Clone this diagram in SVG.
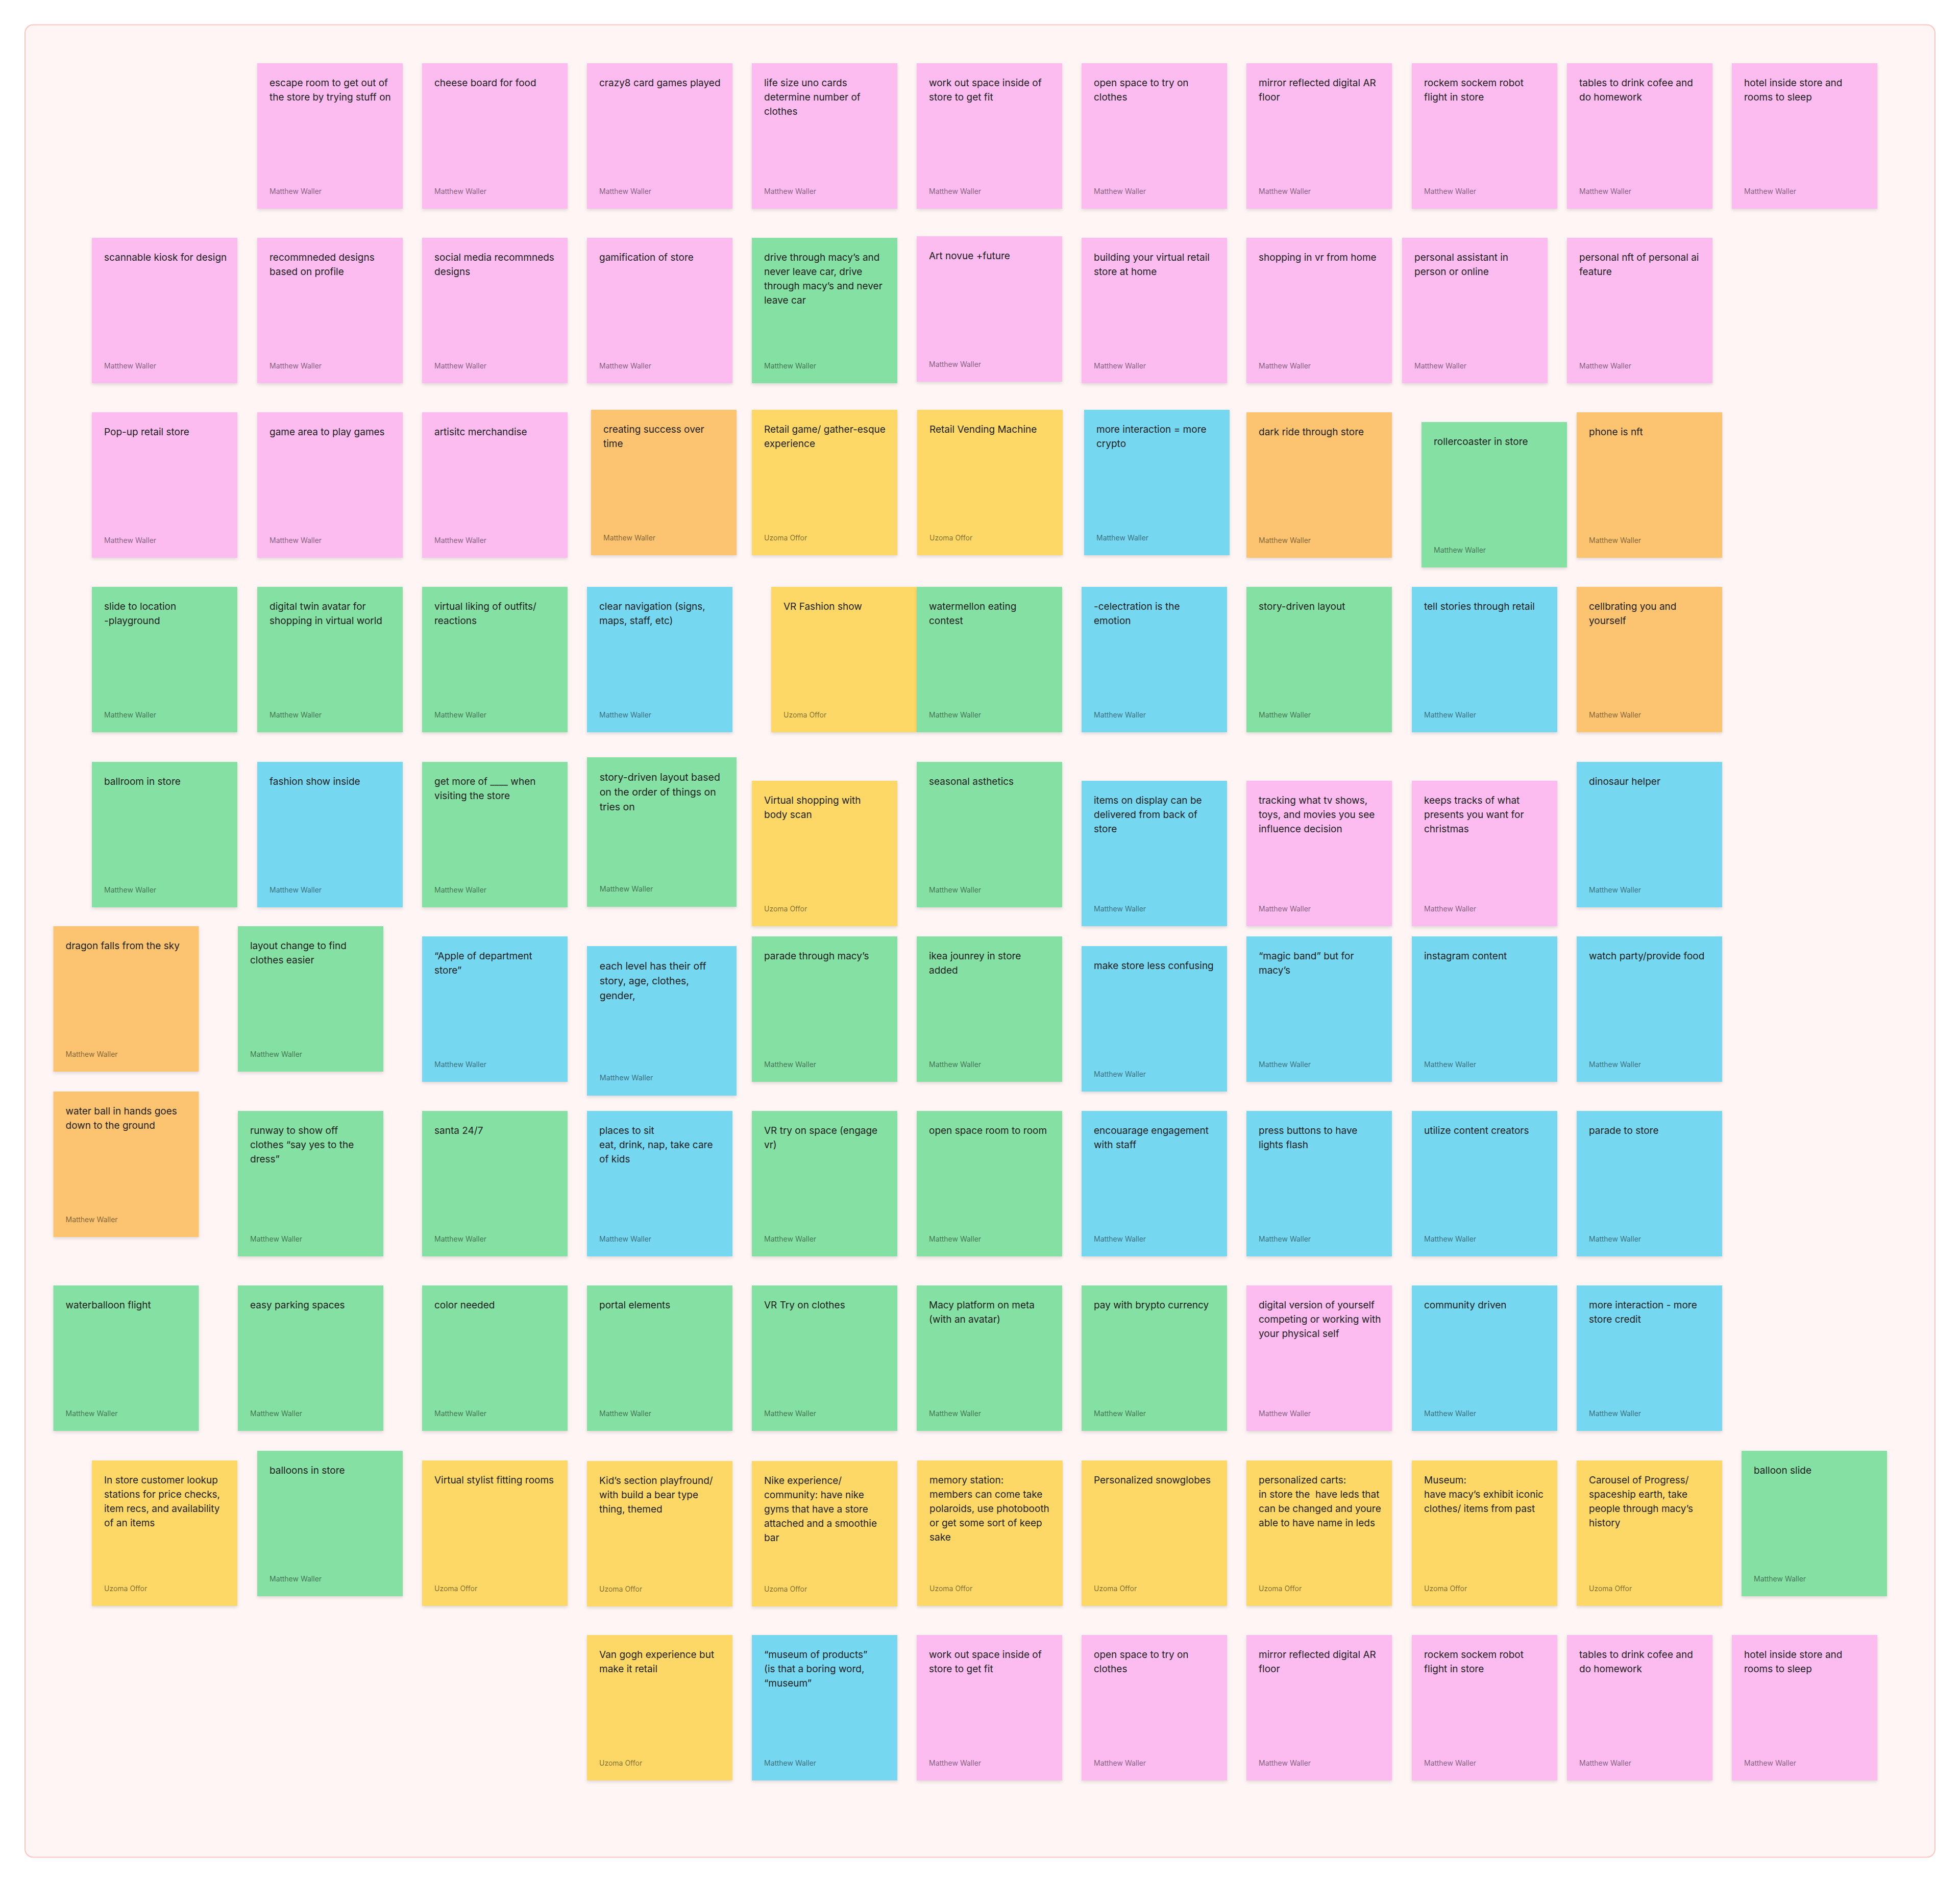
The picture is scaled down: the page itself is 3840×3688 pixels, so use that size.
<svg xmlns="http://www.w3.org/2000/svg" width="3840" height="3688" viewBox="0 0 3840 3688">
<style>
.s{filter:url(#sh)}
.pk{fill:#FCBCF0}.gr{fill:#85E0A3}.bl{fill:#75D7F0}.ye{fill:#FDD866}.or{fill:#FCC470}
.t{font-family:Inter,"Noto Sans","Liberation Sans",sans-serif;font-size:19px;fill:#1E1E1E}
.a{font-family:Inter,"Noto Sans","Liberation Sans",sans-serif;font-size:14px;fill:#000;fill-opacity:0.5}
</style>
<defs>
<filter id="sh" x="-10%" y="-10%" width="120%" height="125%">
<feDropShadow dx="0" dy="3" stdDeviation="3" flood-color="#000" flood-opacity="0.12"/>
</filter>
</defs>
<rect width="3840" height="3688" fill="#FFFFFF"/>
<rect id="frame" x="49" y="48.5" width="3742" height="3591" rx="16" fill="#FEF5F4" stroke="#FCC4C0" stroke-width="2"/>

<!-- Row 0 -->
<g id="n-escape" transform="translate(504,124)"><rect class="s pk" width="285" height="285"/><text class="t"><tspan x="24" y="45">escape room to get out of</tspan><tspan x="24" dy="28">the store by trying stuff on</tspan></text><text class="a" x="24" y="256">Matthew Waller</text></g>
<g id="n-cheese" transform="translate(827,124)"><rect class="s pk" width="285" height="285"/><text class="t"><tspan x="24" y="45">cheese board for food</tspan></text><text class="a" x="24" y="256">Matthew Waller</text></g>
<g id="n-crazy8" transform="translate(1150,124)"><rect class="s pk" width="285" height="285"/><text class="t"><tspan x="24" y="45">crazy8 card games played</tspan></text><text class="a" x="24" y="256">Matthew Waller</text></g>
<g id="n-uno" transform="translate(1473,124)"><rect class="s pk" width="285" height="285"/><text class="t"><tspan x="24" y="45">life size uno cards</tspan><tspan x="24" dy="28">determine number of</tspan><tspan x="24" dy="28">clothes</tspan></text><text class="a" x="24" y="256">Matthew Waller</text></g>
<g id="n-workout1" transform="translate(1796,124)"><rect class="s pk" width="285" height="285"/><text class="t"><tspan x="24" y="45">work out space inside of</tspan><tspan x="24" dy="28">store to get fit</tspan></text><text class="a" x="24" y="256">Matthew Waller</text></g>
<g id="n-openspace1" transform="translate(2119,124)"><rect class="s pk" width="285" height="285"/><text class="t"><tspan x="24" y="45">open space to try on</tspan><tspan x="24" dy="28">clothes</tspan></text><text class="a" x="24" y="256">Matthew Waller</text></g>
<g id="n-mirror1" transform="translate(2442,124)"><rect class="s pk" width="285" height="285"/><text class="t"><tspan x="24" y="45">mirror reflected digital AR</tspan><tspan x="24" dy="28">floor</tspan></text><text class="a" x="24" y="256">Matthew Waller</text></g>
<g id="n-rockem1" transform="translate(2766,124)"><rect class="s pk" width="285" height="285"/><text class="t"><tspan x="24" y="45">rockem sockem robot</tspan><tspan x="24" dy="28">flight in store</tspan></text><text class="a" x="24" y="256">Matthew Waller</text></g>
<g id="n-tables1" transform="translate(3070,124)"><rect class="s pk" width="285" height="285"/><text class="t"><tspan x="24" y="45">tables to drink cofee and</tspan><tspan x="24" dy="28">do homework</tspan></text><text class="a" x="24" y="256">Matthew Waller</text></g>
<g id="n-hotel1" transform="translate(3393,124)"><rect class="s pk" width="285" height="285"/><text class="t"><tspan x="24" y="45">hotel inside store and</tspan><tspan x="24" dy="28">rooms to sleep</tspan></text><text class="a" x="24" y="256">Matthew Waller</text></g>

<!-- Row 1 -->
<g id="n-kiosk" transform="translate(180,466)"><rect class="s pk" width="285" height="285"/><text class="t"><tspan x="24" y="45">scannable kiosk for design</tspan></text><text class="a" x="24" y="256">Matthew Waller</text></g>
<g id="n-recomm" transform="translate(504,466)"><rect class="s pk" width="285" height="285"/><text class="t"><tspan x="24" y="45">recommneded designs</tspan><tspan x="24" dy="28">based on profile</tspan></text><text class="a" x="24" y="256">Matthew Waller</text></g>
<g id="n-social" transform="translate(827,466)"><rect class="s pk" width="285" height="285"/><text class="t"><tspan x="24" y="45">social media recommneds</tspan><tspan x="24" dy="28">designs</tspan></text><text class="a" x="24" y="256">Matthew Waller</text></g>
<g id="n-gamif" transform="translate(1150,466)"><rect class="s pk" width="285" height="285"/><text class="t"><tspan x="24" y="45">gamification of store</tspan></text><text class="a" x="24" y="256">Matthew Waller</text></g>
<g id="n-drive" transform="translate(1473,466)"><rect class="s gr" width="285" height="285"/><text class="t"><tspan x="24" y="45">drive through macy’s and</tspan><tspan x="24" dy="28">never leave car, drive</tspan><tspan x="24" dy="28">through macy’s and never</tspan><tspan x="24" dy="28">leave car</tspan></text><text class="a" x="24" y="256">Matthew Waller</text></g>
<g id="n-artnovue" transform="translate(1796,463)"><rect class="s pk" width="285" height="285"/><text class="t"><tspan x="24" y="45">Art novue +future</tspan></text><text class="a" x="24" y="256">Matthew Waller</text></g>
<g id="n-building" transform="translate(2119,466)"><rect class="s pk" width="285" height="285"/><text class="t"><tspan x="24" y="45">building your virtual retail</tspan><tspan x="24" dy="28">store at home</tspan></text><text class="a" x="24" y="256">Matthew Waller</text></g>
<g id="n-shopvr" transform="translate(2442,466)"><rect class="s pk" width="285" height="285"/><text class="t"><tspan x="24" y="45">shopping in vr from home</tspan></text><text class="a" x="24" y="256">Matthew Waller</text></g>
<g id="n-assistant" transform="translate(2747,466)"><rect class="s pk" width="285" height="285"/><text class="t"><tspan x="24" y="45">personal assistant in</tspan><tspan x="24" dy="28">person or online</tspan></text><text class="a" x="24" y="256">Matthew Waller</text></g>
<g id="n-nft" transform="translate(3070,466)"><rect class="s pk" width="285" height="285"/><text class="t"><tspan x="24" y="45">personal nft of personal ai</tspan><tspan x="24" dy="28">feature</tspan></text><text class="a" x="24" y="256">Matthew Waller</text></g>

<!-- Row 2 -->
<g id="n-popup" transform="translate(180,808)"><rect class="s pk" width="285" height="285"/><text class="t"><tspan x="24" y="45">Pop-up retail store</tspan></text><text class="a" x="24" y="256">Matthew Waller</text></g>
<g id="n-gamearea" transform="translate(504,808)"><rect class="s pk" width="285" height="285"/><text class="t"><tspan x="24" y="45">game area to play games</tspan></text><text class="a" x="24" y="256">Matthew Waller</text></g>
<g id="n-artisitc" transform="translate(827,808)"><rect class="s pk" width="285" height="285"/><text class="t"><tspan x="24" y="45">artisitc merchandise</tspan></text><text class="a" x="24" y="256">Matthew Waller</text></g>
<g id="n-success" transform="translate(1158,803)"><rect class="s or" width="285" height="285"/><text class="t"><tspan x="24" y="45">creating success over</tspan><tspan x="24" dy="28">time</tspan></text><text class="a" x="24" y="256">Matthew Waller</text></g>
<g id="n-retailgame" transform="translate(1473,803)"><rect class="s ye" width="285" height="285"/><text class="t"><tspan x="24" y="45">Retail game/ gather-esque</tspan><tspan x="24" dy="28">experience</tspan></text><text class="a" x="24" y="256">Uzoma Offor</text></g>
<g id="n-vending" transform="translate(1797,803)"><rect class="s ye" width="285" height="285"/><text class="t"><tspan x="24" y="45">Retail Vending Machine</tspan></text><text class="a" x="24" y="256">Uzoma Offor</text></g>
<g id="n-crypto" transform="translate(2124,803)"><rect class="s bl" width="285" height="285"/><text class="t"><tspan x="24" y="45">more interaction = more</tspan><tspan x="24" dy="28">crypto</tspan></text><text class="a" x="24" y="256">Matthew Waller</text></g>
<g id="n-darkride" transform="translate(2442,808)"><rect class="s or" width="285" height="285"/><text class="t"><tspan x="24" y="45">dark ride through store</tspan></text><text class="a" x="24" y="256">Matthew Waller</text></g>
<g id="n-roller" transform="translate(2785,827)"><rect class="s gr" width="285" height="285"/><text class="t"><tspan x="24" y="45">rollercoaster in store</tspan></text><text class="a" x="24" y="256">Matthew Waller</text></g>
<g id="n-phonenft" transform="translate(3089,808)"><rect class="s or" width="285" height="285"/><text class="t"><tspan x="24" y="45">phone is nft</tspan></text><text class="a" x="24" y="256">Matthew Waller</text></g>

<!-- Row 3 -->
<g id="n-slide" transform="translate(180,1150)"><rect class="s gr" width="285" height="285"/><text class="t"><tspan x="24" y="45">slide to location</tspan><tspan x="24" dy="28">-playground</tspan></text><text class="a" x="24" y="256">Matthew Waller</text></g>
<g id="n-twin" transform="translate(504,1150)"><rect class="s gr" width="285" height="285"/><text class="t"><tspan x="24" y="45">digital twin avatar for</tspan><tspan x="24" dy="28">shopping in virtual world</tspan></text><text class="a" x="24" y="256">Matthew Waller</text></g>
<g id="n-liking" transform="translate(827,1150)"><rect class="s gr" width="285" height="285"/><text class="t"><tspan x="24" y="45">virtual liking of outfits/</tspan><tspan x="24" dy="28">reactions</tspan></text><text class="a" x="24" y="256">Matthew Waller</text></g>
<g id="n-nav" transform="translate(1150,1150)"><rect class="s bl" width="285" height="285"/><text class="t"><tspan x="24" y="45">clear navigation (signs,</tspan><tspan x="24" dy="28">maps, staff, etc)</tspan></text><text class="a" x="24" y="256">Matthew Waller</text></g>
<g id="n-vrfashion" transform="translate(1511,1150)"><rect class="s ye" width="285" height="285"/><text class="t"><tspan x="24" y="45">VR Fashion show</tspan></text><text class="a" x="24" y="256">Uzoma Offor</text></g>
<g id="n-water" transform="translate(1796,1150)"><rect class="s gr" width="285" height="285"/><text class="t"><tspan x="24" y="45">watermellon eating</tspan><tspan x="24" dy="28">contest</tspan></text><text class="a" x="24" y="256">Matthew Waller</text></g>
<g id="n-celect" transform="translate(2119,1150)"><rect class="s bl" width="285" height="285"/><text class="t"><tspan x="24" y="45">-celectration is the</tspan><tspan x="24" dy="28">emotion</tspan></text><text class="a" x="24" y="256">Matthew Waller</text></g>
<g id="n-storylayout" transform="translate(2442,1150)"><rect class="s gr" width="285" height="285"/><text class="t"><tspan x="24" y="45">story-driven layout</tspan></text><text class="a" x="24" y="256">Matthew Waller</text></g>
<g id="n-tellstories" transform="translate(2766,1150)"><rect class="s bl" width="285" height="285"/><text class="t"><tspan x="24" y="45">tell stories through retail</tspan></text><text class="a" x="24" y="256">Matthew Waller</text></g>
<g id="n-cellbrating" transform="translate(3089,1150)"><rect class="s or" width="285" height="285"/><text class="t"><tspan x="24" y="45">cellbrating you and</tspan><tspan x="24" dy="28">yourself</tspan></text><text class="a" x="24" y="256">Matthew Waller</text></g>

<!-- Row 4 -->
<g id="n-ballroom" transform="translate(180,1493)"><rect class="s gr" width="285" height="285"/><text class="t"><tspan x="24" y="45">ballroom in store</tspan></text><text class="a" x="24" y="256">Matthew Waller</text></g>
<g id="n-fashioninside" transform="translate(504,1493)"><rect class="s bl" width="285" height="285"/><text class="t"><tspan x="24" y="45">fashion show inside</tspan></text><text class="a" x="24" y="256">Matthew Waller</text></g>
<g id="n-getmore" transform="translate(827,1493)"><rect class="s gr" width="285" height="285"/><text class="t"><tspan x="24" y="45">get more of ____ when</tspan><tspan x="24" dy="28">visiting the store</tspan></text><text class="a" x="24" y="256">Matthew Waller</text></g>
<g id="n-storybased" transform="translate(1150,1484) scale(1.028)"><rect class="s gr" width="285" height="285"/><text class="t"><tspan x="24" y="45">story-driven layout based</tspan><tspan x="24" dy="28">on the order of things on</tspan><tspan x="24" dy="28">tries on</tspan></text><text class="a" x="24" y="256">Matthew Waller</text></g>
<g id="n-bodyscan" transform="translate(1473,1530)"><rect class="s ye" width="285" height="285"/><text class="t"><tspan x="24" y="45">Virtual shopping with</tspan><tspan x="24" dy="28">body scan</tspan></text><text class="a" x="24" y="256">Uzoma Offor</text></g>
<g id="n-seasonal" transform="translate(1796,1493)"><rect class="s gr" width="285" height="285"/><text class="t"><tspan x="24" y="45">seasonal asthetics</tspan></text><text class="a" x="24" y="256">Matthew Waller</text></g>
<g id="n-display" transform="translate(2119,1530)"><rect class="s bl" width="285" height="285"/><text class="t"><tspan x="24" y="45">items on display can be</tspan><tspan x="24" dy="28">delivered from back of</tspan><tspan x="24" dy="28">store</tspan></text><text class="a" x="24" y="256">Matthew Waller</text></g>
<g id="n-tracking" transform="translate(2442,1530)"><rect class="s pk" width="285" height="285"/><text class="t"><tspan x="24" y="45">tracking what tv shows,</tspan><tspan x="24" dy="28">toys, and movies you see</tspan><tspan x="24" dy="28">influence decision</tspan></text><text class="a" x="24" y="256">Matthew Waller</text></g>
<g id="n-keeps" transform="translate(2766,1530)"><rect class="s pk" width="285" height="285"/><text class="t"><tspan x="24" y="45">keeps tracks of what</tspan><tspan x="24" dy="28">presents you want for</tspan><tspan x="24" dy="28">christmas</tspan></text><text class="a" x="24" y="256">Matthew Waller</text></g>
<g id="n-dino" transform="translate(3089,1493)"><rect class="s bl" width="285" height="285"/><text class="t"><tspan x="24" y="45">dinosaur helper</tspan></text><text class="a" x="24" y="256">Matthew Waller</text></g>

<!-- Row 5 -->
<g id="n-dragon" transform="translate(104.5,1815)"><rect class="s or" width="285" height="285"/><text class="t"><tspan x="24" y="45">dragon falls from the sky</tspan></text><text class="a" x="24" y="256">Matthew Waller</text></g>
<g id="n-layoutchange" transform="translate(466,1815)"><rect class="s gr" width="285" height="285"/><text class="t"><tspan x="24" y="45">layout change to find</tspan><tspan x="24" dy="28">clothes easier</tspan></text><text class="a" x="24" y="256">Matthew Waller</text></g>
<g id="n-apple" transform="translate(827,1835)"><rect class="s bl" width="285" height="285"/><text class="t"><tspan x="24" y="45">“Apple of department</tspan><tspan x="24" dy="28">store”</tspan></text><text class="a" x="24" y="256">Matthew Waller</text></g>
<g id="n-eachlevel" transform="translate(1150,1854) scale(1.028)"><rect class="s bl" width="285" height="285"/><text class="t"><tspan x="24" y="45">each level has their off</tspan><tspan x="24" dy="28">story, age, clothes,</tspan><tspan x="24" dy="28">gender,</tspan></text><text class="a" x="24" y="256">Matthew Waller</text></g>
<g id="n-parademacys" transform="translate(1473,1835)"><rect class="s gr" width="285" height="285"/><text class="t"><tspan x="24" y="45">parade through macy’s</tspan></text><text class="a" x="24" y="256">Matthew Waller</text></g>
<g id="n-ikea" transform="translate(1796,1835)"><rect class="s gr" width="285" height="285"/><text class="t"><tspan x="24" y="45">ikea jounrey in store</tspan><tspan x="24" dy="28">added</tspan></text><text class="a" x="24" y="256">Matthew Waller</text></g>
<g id="n-confusing" transform="translate(2119,1854)"><rect class="s bl" width="285" height="285"/><text class="t"><tspan x="24" y="45">make store less confusing</tspan></text><text class="a" x="24" y="256">Matthew Waller</text></g>
<g id="n-magicband" transform="translate(2442,1835)"><rect class="s bl" width="285" height="285"/><text class="t"><tspan x="24" y="45">“magic band” but for</tspan><tspan x="24" dy="28">macy’s</tspan></text><text class="a" x="24" y="256">Matthew Waller</text></g>
<g id="n-instagram" transform="translate(2766,1835)"><rect class="s bl" width="285" height="285"/><text class="t"><tspan x="24" y="45">instagram content</tspan></text><text class="a" x="24" y="256">Matthew Waller</text></g>
<g id="n-watchparty" transform="translate(3089,1835)"><rect class="s bl" width="285" height="285"/><text class="t"><tspan x="24" y="45">watch party/provide food</tspan></text><text class="a" x="24" y="256">Matthew Waller</text></g>

<!-- Row 6 -->
<g id="n-waterball" transform="translate(104.5,2139)"><rect class="s or" width="285" height="285"/><text class="t"><tspan x="24" y="45">water ball in hands goes</tspan><tspan x="24" dy="28">down to the ground</tspan></text><text class="a" x="24" y="256">Matthew Waller</text></g>
<g id="n-runway" transform="translate(466,2177)"><rect class="s gr" width="285" height="285"/><text class="t"><tspan x="24" y="45">runway to show off</tspan><tspan x="24" dy="28">clothes “say yes to the</tspan><tspan x="24" dy="28">dress”</tspan></text><text class="a" x="24" y="256">Matthew Waller</text></g>
<g id="n-santa" transform="translate(827,2177)"><rect class="s gr" width="285" height="285"/><text class="t"><tspan x="24" y="45">santa 24/7</tspan></text><text class="a" x="24" y="256">Matthew Waller</text></g>
<g id="n-placestosit" transform="translate(1150,2177)"><rect class="s bl" width="285" height="285"/><text class="t"><tspan x="24" y="45">places to sit</tspan><tspan x="24" dy="28">eat, drink, nap, take care</tspan><tspan x="24" dy="28">of kids</tspan></text><text class="a" x="24" y="256">Matthew Waller</text></g>
<g id="n-vrspace" transform="translate(1473,2177)"><rect class="s gr" width="285" height="285"/><text class="t"><tspan x="24" y="45">VR try on space (engage</tspan><tspan x="24" dy="28">vr)</tspan></text><text class="a" x="24" y="256">Matthew Waller</text></g>
<g id="n-roomtoroom" transform="translate(1796,2177)"><rect class="s gr" width="285" height="285"/><text class="t"><tspan x="24" y="45">open space room to room</tspan></text><text class="a" x="24" y="256">Matthew Waller</text></g>
<g id="n-encourage" transform="translate(2119,2177)"><rect class="s bl" width="285" height="285"/><text class="t"><tspan x="24" y="45">encouarage engagement</tspan><tspan x="24" dy="28">with staff</tspan></text><text class="a" x="24" y="256">Matthew Waller</text></g>
<g id="n-buttons" transform="translate(2442,2177)"><rect class="s bl" width="285" height="285"/><text class="t"><tspan x="24" y="45">press buttons to have</tspan><tspan x="24" dy="28">lights flash</tspan></text><text class="a" x="24" y="256">Matthew Waller</text></g>
<g id="n-creators" transform="translate(2766,2177)"><rect class="s bl" width="285" height="285"/><text class="t"><tspan x="24" y="45">utilize content creators</tspan></text><text class="a" x="24" y="256">Matthew Waller</text></g>
<g id="n-paradestore" transform="translate(3089,2177)"><rect class="s bl" width="285" height="285"/><text class="t"><tspan x="24" y="45">parade to store</tspan></text><text class="a" x="24" y="256">Matthew Waller</text></g>

<!-- Row 7 -->
<g id="n-waterballoon" transform="translate(104.5,2519)"><rect class="s gr" width="285" height="285"/><text class="t"><tspan x="24" y="45">waterballoon flight</tspan></text><text class="a" x="24" y="256">Matthew Waller</text></g>
<g id="n-parking" transform="translate(466,2519)"><rect class="s gr" width="285" height="285"/><text class="t"><tspan x="24" y="45">easy parking spaces</tspan></text><text class="a" x="24" y="256">Matthew Waller</text></g>
<g id="n-color" transform="translate(827,2519)"><rect class="s gr" width="285" height="285"/><text class="t"><tspan x="24" y="45">color needed</tspan></text><text class="a" x="24" y="256">Matthew Waller</text></g>
<g id="n-portal" transform="translate(1150,2519)"><rect class="s gr" width="285" height="285"/><text class="t"><tspan x="24" y="45">portal elements</tspan></text><text class="a" x="24" y="256">Matthew Waller</text></g>
<g id="n-vrclothes" transform="translate(1473,2519)"><rect class="s gr" width="285" height="285"/><text class="t"><tspan x="24" y="45">VR Try on clothes</tspan></text><text class="a" x="24" y="256">Matthew Waller</text></g>
<g id="n-meta" transform="translate(1796,2519)"><rect class="s gr" width="285" height="285"/><text class="t"><tspan x="24" y="45">Macy platform on meta</tspan><tspan x="24" dy="28">(with an avatar)</tspan></text><text class="a" x="24" y="256">Matthew Waller</text></g>
<g id="n-brypto" transform="translate(2119,2519)"><rect class="s gr" width="285" height="285"/><text class="t"><tspan x="24" y="45">pay with brypto currency</tspan></text><text class="a" x="24" y="256">Matthew Waller</text></g>
<g id="n-digitalversion" transform="translate(2442,2519)"><rect class="s pk" width="285" height="285"/><text class="t"><tspan x="24" y="45">digital version of yourself</tspan><tspan x="24" dy="28">competing or working with</tspan><tspan x="24" dy="28">your physical self</tspan></text><text class="a" x="24" y="256">Matthew Waller</text></g>
<g id="n-community" transform="translate(2766,2519)"><rect class="s bl" width="285" height="285"/><text class="t"><tspan x="24" y="45">community driven</tspan></text><text class="a" x="24" y="256">Matthew Waller</text></g>
<g id="n-credit" transform="translate(3089,2519)"><rect class="s bl" width="285" height="285"/><text class="t"><tspan x="24" y="45">more interaction - more</tspan><tspan x="24" dy="28">store credit</tspan></text><text class="a" x="24" y="256">Matthew Waller</text></g>

<!-- Row 8 -->
<g id="n-lookup" transform="translate(180,2862)"><rect class="s ye" width="285" height="285"/><text class="t"><tspan x="24" y="45">In store customer lookup</tspan><tspan x="24" dy="28">stations for price checks,</tspan><tspan x="24" dy="28">item recs, and availability</tspan><tspan x="24" dy="28">of an items</tspan></text><text class="a" x="24" y="256">Uzoma Offor</text></g>
<g id="n-balloons" transform="translate(504,2843)"><rect class="s gr" width="285" height="285"/><text class="t"><tspan x="24" y="45">balloons in store</tspan></text><text class="a" x="24" y="256">Matthew Waller</text></g>
<g id="n-stylist" transform="translate(827,2862)"><rect class="s ye" width="285" height="285"/><text class="t"><tspan x="24" y="45">Virtual stylist fitting rooms</tspan></text><text class="a" x="24" y="256">Uzoma Offor</text></g>
<g id="n-kids" transform="translate(1150,2863)"><rect class="s ye" width="285" height="285"/><text class="t"><tspan x="24" y="45">Kid’s section playfround/</tspan><tspan x="24" dy="28">with build a bear type</tspan><tspan x="24" dy="28">thing, themed</tspan></text><text class="a" x="24" y="256">Uzoma Offor</text></g>
<g id="n-nike" transform="translate(1473,2863)"><rect class="s ye" width="285" height="285"/><text class="t"><tspan x="24" y="45">Nike experience/</tspan><tspan x="24" dy="28">community: have nike</tspan><tspan x="24" dy="28">gyms that have a store</tspan><tspan x="24" dy="28">attached and a smoothie</tspan><tspan x="24" dy="28">bar</tspan></text><text class="a" x="24" y="256">Uzoma Offor</text></g>
<g id="n-memory" transform="translate(1797,2862)"><rect class="s ye" width="285" height="285"/><text class="t"><tspan x="24" y="45">memory station:</tspan><tspan x="24" dy="28">members can come take</tspan><tspan x="24" dy="28">polaroids, use photobooth</tspan><tspan x="24" dy="28">or get some sort of keep</tspan><tspan x="24" dy="28">sake</tspan></text><text class="a" x="24" y="256">Uzoma Offor</text></g>
<g id="n-snowglobes" transform="translate(2119,2862)"><rect class="s ye" width="285" height="285"/><text class="t"><tspan x="24" y="45">Personalized snowglobes</tspan></text><text class="a" x="24" y="256">Uzoma Offor</text></g>
<g id="n-carts" transform="translate(2442,2862)"><rect class="s ye" width="285" height="285"/><text class="t" xml:space="preserve"><tspan x="24" y="45">personalized carts:</tspan><tspan x="24" dy="28">in store the  have leds that</tspan><tspan x="24" dy="28">can be changed and youre</tspan><tspan x="24" dy="28">able to have name in leds</tspan></text><text class="a" x="24" y="256">Uzoma Offor</text></g>
<g id="n-museum" transform="translate(2766,2862)"><rect class="s ye" width="285" height="285"/><text class="t"><tspan x="24" y="45">Museum:</tspan><tspan x="24" dy="28">have macy’s exhibit iconic</tspan><tspan x="24" dy="28">clothes/ items from past</tspan></text><text class="a" x="24" y="256">Uzoma Offor</text></g>
<g id="n-carousel" transform="translate(3089,2862)"><rect class="s ye" width="285" height="285"/><text class="t"><tspan x="24" y="45">Carousel of Progress/</tspan><tspan x="24" dy="28">spaceship earth, take</tspan><tspan x="24" dy="28">people through macy’s</tspan><tspan x="24" dy="28">history</tspan></text><text class="a" x="24" y="256">Uzoma Offor</text></g>
<g id="n-balloonslide" transform="translate(3412,2843)"><rect class="s gr" width="285" height="285"/><text class="t"><tspan x="24" y="45">balloon slide</tspan></text><text class="a" x="24" y="256">Matthew Waller</text></g>

<!-- Row 9 -->
<g id="n-vangogh" transform="translate(1150,3204)"><rect class="s ye" width="285" height="285"/><text class="t"><tspan x="24" y="45">Van gogh experience but</tspan><tspan x="24" dy="28">make it retail</tspan></text><text class="a" x="24" y="256">Uzoma Offor</text></g>
<g id="n-museumproducts" transform="translate(1473,3204)"><rect class="s bl" width="285" height="285"/><text class="t"><tspan x="24" y="45">“museum of products”</tspan><tspan x="24" dy="28">(is that a boring word,</tspan><tspan x="24" dy="28">“museum”</tspan></text><text class="a" x="24" y="256">Matthew Waller</text></g>
<g id="n-workout2" transform="translate(1796,3204)"><rect class="s pk" width="285" height="285"/><text class="t"><tspan x="24" y="45">work out space inside of</tspan><tspan x="24" dy="28">store to get fit</tspan></text><text class="a" x="24" y="256">Matthew Waller</text></g>
<g id="n-openspace2" transform="translate(2119,3204)"><rect class="s pk" width="285" height="285"/><text class="t"><tspan x="24" y="45">open space to try on</tspan><tspan x="24" dy="28">clothes</tspan></text><text class="a" x="24" y="256">Matthew Waller</text></g>
<g id="n-mirror2" transform="translate(2442,3204)"><rect class="s pk" width="285" height="285"/><text class="t"><tspan x="24" y="45">mirror reflected digital AR</tspan><tspan x="24" dy="28">floor</tspan></text><text class="a" x="24" y="256">Matthew Waller</text></g>
<g id="n-rockem2" transform="translate(2766,3204)"><rect class="s pk" width="285" height="285"/><text class="t"><tspan x="24" y="45">rockem sockem robot</tspan><tspan x="24" dy="28">flight in store</tspan></text><text class="a" x="24" y="256">Matthew Waller</text></g>
<g id="n-tables2" transform="translate(3070,3204)"><rect class="s pk" width="285" height="285"/><text class="t"><tspan x="24" y="45">tables to drink cofee and</tspan><tspan x="24" dy="28">do homework</tspan></text><text class="a" x="24" y="256">Matthew Waller</text></g>
<g id="n-hotel2" transform="translate(3393,3204)"><rect class="s pk" width="285" height="285"/><text class="t"><tspan x="24" y="45">hotel inside store and</tspan><tspan x="24" dy="28">rooms to sleep</tspan></text><text class="a" x="24" y="256">Matthew Waller</text></g>
</svg>
